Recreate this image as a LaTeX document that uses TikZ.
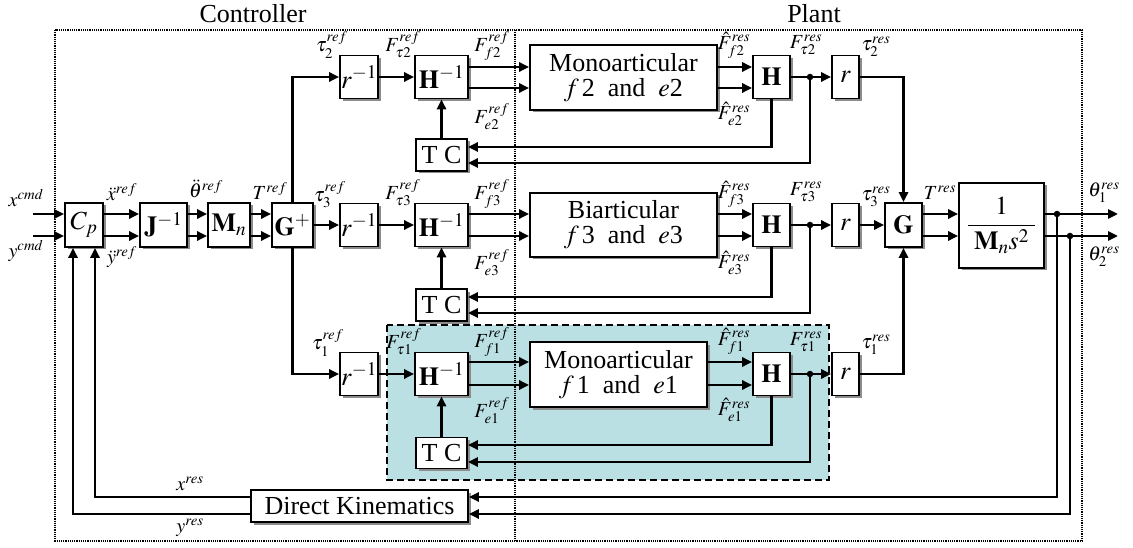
\documentclass[tikz,border=0pt]{standalone}
\usepackage{mathptmx}
\usepackage{fontspec}
\setmainfont{Liberation Serif}
\usetikzlibrary{arrows.meta,shadows,calc}
\definecolor{shadecol}{RGB}{186,224,228}
\begin{document}
\begin{tikzpicture}[x=1pt,y=-1pt,
  box/.style={draw,line width=1.6pt,fill=white,inner sep=0pt,align=center,
    font=\fontsize{26}{26}\selectfont,
    drop shadow={shadow xshift=2.5pt,shadow yshift=-2.5pt,fill=black!45,opacity=1}},
  conn/.style={line width=2.7pt},
  arr/.style={conn,-{Triangle[length=10pt,width=9pt]}},
  lab/.style={inner sep=0pt,font=\fontsize{20}{22}\selectfont},
  title/.style={inner sep=0pt,font=\fontsize{26}{28}\selectfont},
  jdot/.style={circle,fill,inner sep=0pt,minimum size=6.5pt},
  frame/.style={line width=2.4pt,dash pattern=on 1.3pt off 0.9pt}]
\useasboundingbox (0,0) rectangle (1133,548);
% shaded group
\draw[fill=shadecol,line width=2.3pt,dash pattern=on 7pt off 4pt] (387,325) rectangle (829,480);
% frame
\draw[frame] (55,30) rectangle (1082,541);
\draw[frame] (515,30) -- (515,541);
\node[title] (tctrl) at (253,14) {Controller};
\node[title] (tplant) at (814,14) {Plant};
% level coordinates
\coordinate (Lx) at (0,214);
\coordinate (Ly) at (0,236);
\coordinate (D1) at (0,497);
\coordinate (D2) at (0,514);
\coordinate (xin) at (33,214);
\coordinate (yin) at (33,236);
\coordinate (o1) at (1118,214);
\coordinate (o2) at (1118,236);
% left chain
\node[box,minimum width=38pt,minimum height=44pt] (cp) at (84,225) {$C_p$};
\node[box,minimum width=47pt,minimum height=44pt] (jinv) at (163.5,225) {$\mathbf{J}^{-1}$};
\node[box,minimum width=42pt,minimum height=44pt] (mn) at (229,225) {$\mathbf{M}_n$};
\node[box,minimum width=41pt,minimum height=44pt] (gp) at (292.5,225) {$\mathbf{G}^{+}$};
% rows
\foreach \i/\yc/\fa/\fb/\ua/\ub in {2/77/147/163/67/88, 3/225/297/313/214/236, 1/374/445/462/362/385}{
  \coordinate (U\i) at (0,\ua);
  \coordinate (V\i) at (0,\ub);
  \coordinate (FA\i) at (0,\fa);
  \coordinate (FB\i) at (0,\fb);
  \node[box,minimum width=38pt,minimum height=43pt] (rin\i) at (359,\yc) {$r^{-1}$};
  \node[box,minimum width=53pt,minimum height=43pt] (hinv\i) at (441.5,\yc) {$\mathbf{H}^{-1}$};
  \node[box,minimum width=37pt,minimum height=43pt] (h\i) at (771.5,\yc) {$\mathbf{H}$};
  \node[box,minimum width=27pt,minimum height=43pt] (r\i) at (845.5,\yc) {$r$};
}
\node[box,minimum width=51pt,minimum height=32pt] (tc2) at (441.5,155) {T C};
\node[box,minimum width=51pt,minimum height=32pt] (tc3) at (441.5,305) {T C};
\node[box,minimum width=51pt,minimum height=31pt] (tc1) at (441.5,453) {T C};
\node[box,minimum width=187pt,minimum height=65pt] (m2) at (623.5,77.5) {Monoarticular\\[-1pt]$f\,$2~~and~~$e$2};
\node[box,minimum width=187pt,minimum height=64pt] (m3) at (623.5,225) {Biarticular\\[-1pt]$f\,$3~~and~~$e$3};
\node[box,minimum width=177pt,minimum height=65pt] (m1) at (618.5,374.5) {Monoarticular\\[-1pt]$f\,$1~~and~~$e$1};
\node[box,minimum width=37pt,minimum height=44pt] (g) at (903.5,225) {$\mathbf{G}$};
\node[box,minimum width=85pt,minimum height=85pt] (plant) at (1001.5,225.5) {$\displaystyle\frac{1}{\;\mathbf{M}_n s^2\;}$};
\node[box,minimum width=217pt,minimum height=32pt] (dk) at (359.5,506) {Direct Kinematics};
% dots
\node[jdot] (d2) at (810,77) {};
\node[jdot] (d3) at (810,225) {};
\node[jdot] (d1) at (810,374) {};
\node[jdot] (p1) at (1057,214) {};
\node[jdot] (p2) at (1070,236) {};
% left chain connectors
\draw[arr] (xin) -- (cp.west |- Lx);
\draw[arr] (yin) -- (cp.west |- Ly);
\draw[arr] (cp.east |- Lx) -- (jinv.west |- Lx);
\draw[arr] (cp.east |- Ly) -- (jinv.west |- Ly);
\draw[arr] (jinv.east |- Lx) -- (mn.west |- Lx);
\draw[arr] (jinv.east |- Ly) -- (mn.west |- Ly);
\draw[arr] (mn.east |- Lx) -- (gp.west |- Lx);
\draw[arr] (mn.east |- Ly) -- (gp.west |- Ly);
\draw[arr] (gp.north) |- (rin2.west);
\draw[arr] (gp.east) -- (rin3.west);
\draw[arr] (gp.south) |- (rin1.west);
% row connectors
\foreach \i in {1,2,3}{
  \draw[arr] (rin\i.east) -- (hinv\i.west);
  \draw[arr] (hinv\i.east |- U\i) -- (m\i.west |- U\i);
  \draw[arr] (hinv\i.east |- V\i) -- (m\i.west |- V\i);
  \draw[arr] (m\i.east |- U\i) -- (h\i.west |- U\i);
  \draw[arr] (m\i.east |- V\i) -- (h\i.west |- V\i);
  \draw[arr] (h\i.east) -- (r\i.west);
  \draw[arr] (tc\i.north) -- (hinv\i.south);
  \draw[arr] (h\i.south) |- (tc\i.east |- FA\i);
  \draw[arr] (d\i.center) |- (tc\i.east |- FB\i);
}
\draw[arr] (r2.east) -| (g.north);
\draw[arr] (r3.east) -- (g.west);
\draw[arr] (r1.east) -| (g.south);
\draw[arr] (g.east |- Lx) -- (plant.west |- Lx);
\draw[arr] (g.east |- Ly) -- (plant.west |- Ly);
\draw[arr] (plant.east |- Lx) -- (o1);
\draw[arr] (plant.east |- Ly) -- (o2);
\draw[arr] (p1.center) |- (dk.east |- D1);
\draw[arr] (p2.center) |- (dk.east |- D2);
\draw[arr] (dk.west |- D1) -| ([xshift=11pt]cp.south);
\draw[arr] (dk.west |- D2) -| ([xshift=-11pt]cp.south);
% labels
\node[lab] (lxc) at (26,198) {$x^{cmd}$};
\node[lab] (lyc) at (26,251) {$y^{cmd}$};
\node[lab] (lxd) at (122,192) {$\ddot{x}^{ref}$};
\node[lab] (lyd) at (122,257) {$\ddot{y}^{ref}$};
\node[lab] (lth) at (206,189) {$\ddot{\theta}^{ref}$};
\node[lab] (lT) at (270,191) {$T^{ref}$};
\node[lab] (lt2) at (332,45) {$\tau_2^{ref}$};
\node[lab] (lFt2) at (403,45) {$F_{\tau 2}^{ref}$};
\node[lab] (lFf2) at (492,46) {$F_{f2}^{ref}$};
\node[lab] (lFe2) at (492,117) {$F_{e2}^{ref}$};
\node[lab] (lhf2) at (734,45) {$\hat{F}_{f2}^{res}$};
\node[lab] (lhe2) at (734,114) {$\hat{F}_{e2}^{res}$};
\node[lab] (lFr2) at (806,45) {$F_{\tau 2}^{res}$};
\node[lab] (lr2) at (876,47) {$\tau_2^{res}$};
\node[lab] (lt3) at (330,195) {$\tau_3^{ref}$};
\node[lab] (lFt3) at (403,193) {$F_{\tau 3}^{ref}$};
\node[lab] (lFf3) at (492,194) {$F_{f3}^{ref}$};
\node[lab] (lFe3) at (492,263) {$F_{e3}^{ref}$};
\node[lab] (lhf3) at (734,194) {$\hat{F}_{f3}^{res}$};
\node[lab] (lhe3) at (734,263) {$\hat{F}_{e3}^{res}$};
\node[lab] (lFr3) at (806,192) {$F_{\tau 3}^{res}$};
\node[lab] (lr3) at (876,197) {$\tau_3^{res}$};
\node[lab] (lTr) at (940,193) {$T^{res}$};
\node[lab] (lth1) at (1104,193) {$\theta_1^{res}$};
\node[lab] (lth2) at (1104,257) {$\theta_2^{res}$};
\node[lab] (lt1) at (328,343) {$\tau_1^{ref}$};
\node[lab] (lFt1) at (404,342) {$F_{\tau 1}^{ref}$};
\node[lab] (lFf1) at (492,342) {$F_{f1}^{ref}$};
\node[lab] (lFe1) at (492,411) {$F_{e1}^{ref}$};
\node[lab] (lhf1) at (734,341) {$\hat{F}_{f1}^{res}$};
\node[lab] (lhe1) at (734,410) {$\hat{F}_{e1}^{res}$};
\node[lab] (lFr1) at (806,342) {$F_{\tau 1}^{res}$};
\node[lab] (lr1) at (876,345) {$\tau_1^{res}$};
\node[lab] (lxr) at (190,484) {$x^{res}$};
\node[lab] (lyr) at (190,528) {$y^{res}$};
\end{tikzpicture}
\end{document}
